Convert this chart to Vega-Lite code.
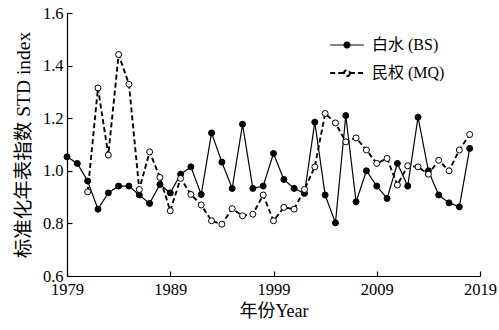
{
  "$schema": "https://vega.github.io/schema/vega-lite/v6.json",
  "width": 413,
  "height": 263,
  "autosize": {"type": "none"},
  "padding": {"left": 67, "top": 13, "right": 19, "bottom": 54},
  "background": "white",
  "config": {
    "view": {"stroke": null},
    "font": "Liberation Serif",
    "axis": {
      "domainColor": "black", "domainWidth": 1.2, "tickColor": "black", "tickWidth": 1.2,
      "labelColor": "black", "titleColor": "black", "labelFont": "Liberation Serif",
      "titleFont": "Liberation Serif, Noto Sans CJK SC", "titleFontWeight": "normal",
      "labelFontSize": 16.5, "titleFontSize": 18, "grid": false, "tickSize": -5
    },
    "legend": {
      "title": null, "orient": "none", "legendX": 265, "legendY": 17,
      "symbolType": "M-1.2,0L-0.21,0M0.21,0L1.2,0M0.21,0A0.21,0.21 0 1 1 -0.21,0A0.21,0.21 0 1 1 0.21,0",
      "symbolSize": 784, "symbolStrokeColor": "black",
      "labelFont": "Liberation Serif, Noto Sans CJK SC", "labelFontSize": 16, "labelColor": "black",
      "rowPadding": 5, "labelOffset": 10
    }
  },
  "data": {
    "values": [
      {"year": 1979, "series": "白水 (BS)", "v": 1.053},
      {"year": 1980, "series": "白水 (BS)", "v": 1.028},
      {"year": 1981, "series": "白水 (BS)", "v": 0.961},
      {"year": 1982, "series": "白水 (BS)", "v": 0.854},
      {"year": 1983, "series": "白水 (BS)", "v": 0.916},
      {"year": 1984, "series": "白水 (BS)", "v": 0.942},
      {"year": 1985, "series": "白水 (BS)", "v": 0.942},
      {"year": 1986, "series": "白水 (BS)", "v": 0.908},
      {"year": 1987, "series": "白水 (BS)", "v": 0.876},
      {"year": 1988, "series": "白水 (BS)", "v": 0.948},
      {"year": 1989, "series": "白水 (BS)", "v": 0.916},
      {"year": 1990, "series": "白水 (BS)", "v": 0.987},
      {"year": 1991, "series": "白水 (BS)", "v": 1.015},
      {"year": 1992, "series": "白水 (BS)", "v": 0.910},
      {"year": 1993, "series": "白水 (BS)", "v": 1.144},
      {"year": 1994, "series": "白水 (BS)", "v": 1.033},
      {"year": 1995, "series": "白水 (BS)", "v": 0.933},
      {"year": 1996, "series": "白水 (BS)", "v": 1.177},
      {"year": 1997, "series": "白水 (BS)", "v": 0.933},
      {"year": 1998, "series": "白水 (BS)", "v": 0.942},
      {"year": 1999, "series": "白水 (BS)", "v": 1.066},
      {"year": 2000, "series": "白水 (BS)", "v": 0.967},
      {"year": 2001, "series": "白水 (BS)", "v": 0.933},
      {"year": 2002, "series": "白水 (BS)", "v": 0.914},
      {"year": 2003, "series": "白水 (BS)", "v": 1.185},
      {"year": 2004, "series": "白水 (BS)", "v": 0.908},
      {"year": 2005, "series": "白水 (BS)", "v": 0.802},
      {"year": 2006, "series": "白水 (BS)", "v": 1.210},
      {"year": 2007, "series": "白水 (BS)", "v": 0.882},
      {"year": 2008, "series": "白水 (BS)", "v": 1.000},
      {"year": 2009, "series": "白水 (BS)", "v": 0.942},
      {"year": 2010, "series": "白水 (BS)", "v": 0.895},
      {"year": 2011, "series": "白水 (BS)", "v": 1.028},
      {"year": 2012, "series": "白水 (BS)", "v": 0.942},
      {"year": 2013, "series": "白水 (BS)", "v": 1.204},
      {"year": 2014, "series": "白水 (BS)", "v": 1.000},
      {"year": 2015, "series": "白水 (BS)", "v": 0.908},
      {"year": 2016, "series": "白水 (BS)", "v": 0.878},
      {"year": 2017, "series": "白水 (BS)", "v": 0.863},
      {"year": 2018, "series": "白水 (BS)", "v": 1.085},
      {"year": 1981, "series": "民权 (MQ)", "v": 0.920},
      {"year": 1982, "series": "民权 (MQ)", "v": 1.315},
      {"year": 1983, "series": "民权 (MQ)", "v": 1.060},
      {"year": 1984, "series": "民权 (MQ)", "v": 1.442},
      {"year": 1985, "series": "民权 (MQ)", "v": 1.329},
      {"year": 1986, "series": "民权 (MQ)", "v": 0.929},
      {"year": 1987, "series": "民权 (MQ)", "v": 1.072},
      {"year": 1988, "series": "民权 (MQ)", "v": 0.975},
      {"year": 1989, "series": "民权 (MQ)", "v": 0.848},
      {"year": 1990, "series": "民权 (MQ)", "v": 0.971},
      {"year": 1991, "series": "民权 (MQ)", "v": 0.910},
      {"year": 1992, "series": "民权 (MQ)", "v": 0.870},
      {"year": 1993, "series": "民权 (MQ)", "v": 0.810},
      {"year": 1994, "series": "民权 (MQ)", "v": 0.797},
      {"year": 1995, "series": "民权 (MQ)", "v": 0.856},
      {"year": 1996, "series": "民权 (MQ)", "v": 0.829},
      {"year": 1997, "series": "民权 (MQ)", "v": 0.835},
      {"year": 1998, "series": "民权 (MQ)", "v": 0.908},
      {"year": 1999, "series": "民权 (MQ)", "v": 0.810},
      {"year": 2000, "series": "民权 (MQ)", "v": 0.861},
      {"year": 2001, "series": "民权 (MQ)", "v": 0.854},
      {"year": 2002, "series": "民权 (MQ)", "v": 0.929},
      {"year": 2003, "series": "民权 (MQ)", "v": 1.015},
      {"year": 2004, "series": "民权 (MQ)", "v": 1.218},
      {"year": 2005, "series": "民权 (MQ)", "v": 1.182},
      {"year": 2006, "series": "民权 (MQ)", "v": 1.110},
      {"year": 2007, "series": "民权 (MQ)", "v": 1.125},
      {"year": 2008, "series": "民权 (MQ)", "v": 1.079},
      {"year": 2009, "series": "民权 (MQ)", "v": 1.028},
      {"year": 2010, "series": "民权 (MQ)", "v": 1.047},
      {"year": 2011, "series": "民权 (MQ)", "v": 0.946},
      {"year": 2012, "series": "民权 (MQ)", "v": 1.019},
      {"year": 2013, "series": "民权 (MQ)", "v": 1.015},
      {"year": 2014, "series": "民权 (MQ)", "v": 0.987},
      {"year": 2015, "series": "民权 (MQ)", "v": 1.040},
      {"year": 2016, "series": "民权 (MQ)", "v": 1.000},
      {"year": 2017, "series": "民权 (MQ)", "v": 1.079},
      {"year": 2018, "series": "民权 (MQ)", "v": 1.138}
    ]
  },
  "encoding": {
    "x": {
      "field": "year", "type": "quantitative",
      "scale": {"domain": [1979, 2019], "nice": false, "zero": false},
      "axis": {"values": [1979, 1989, 1999, 2009, 2019], "format": "d", "title": "年份Year", "labelPadding": 10, "titlePadding": 5, "labelFlush": false}
    },
    "y": {
      "field": "v", "type": "quantitative",
      "scale": {"domain": [0.6, 1.6], "nice": false, "zero": false},
      "axis": {"values": [0.6, 0.8, 1.0, 1.2, 1.4, 1.6], "format": ".1f", "title": "标准化年表指数 STD index", "titleFontSize": 19.5, "labelPadding": 9, "titlePadding": 9}
    }
  },
  "layer": [
    {
      "mark": {"type": "line", "color": "black"},
      "encoding": {
        "strokeDash": {
          "field": "series", "type": "nominal",
          "scale": {"domain": ["白水 (BS)", "民权 (MQ)"], "range": [[1, 0], [5, 3]]}
        },
        "strokeWidth": {
          "field": "series", "type": "nominal",
          "scale": {"domain": ["白水 (BS)", "民权 (MQ)"], "range": [1.2, 1.9]}
        }
      }
    },
    {
      "mark": {"type": "point", "filled": true, "stroke": "black", "strokeWidth": 1, "size": 36, "opacity": 1},
      "encoding": {
        "fill": {
          "field": "series", "type": "nominal",
          "scale": {"domain": ["白水 (BS)", "民权 (MQ)"], "range": ["black", "white"]}
        }
      }
    }
  ]
}
